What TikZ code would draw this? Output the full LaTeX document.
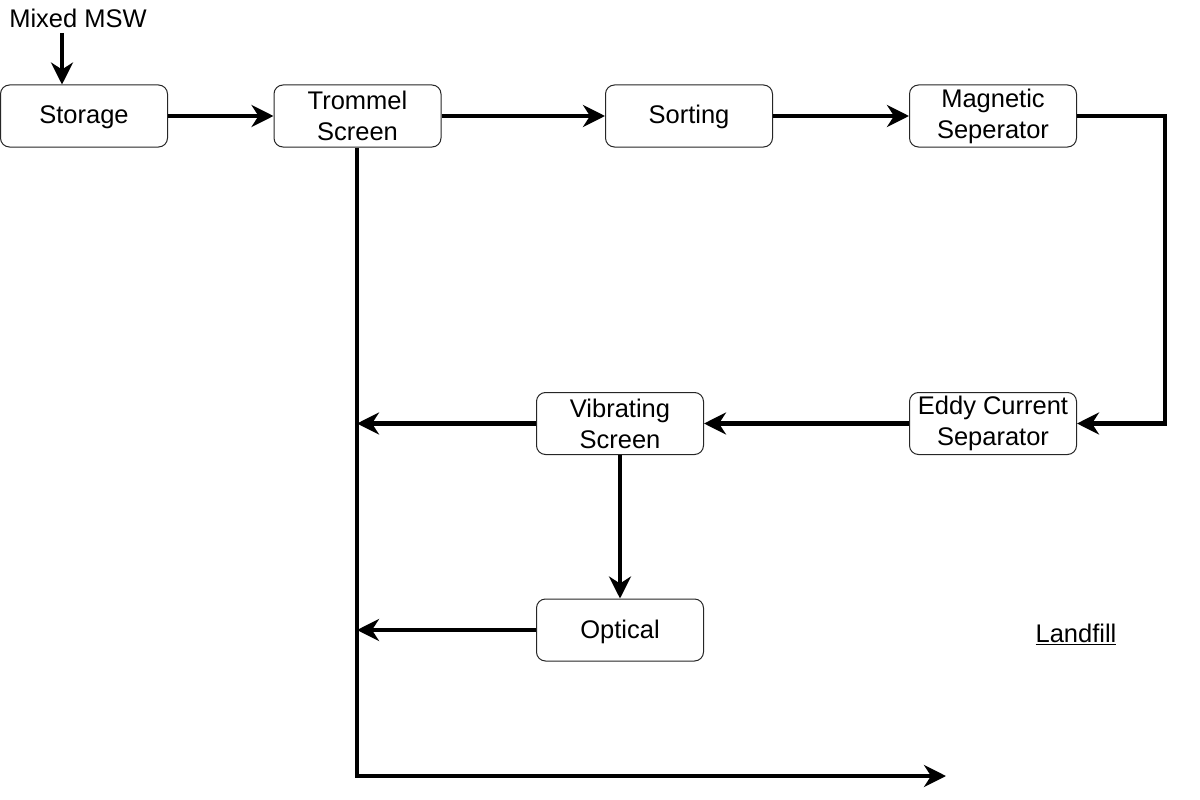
\documentclass[tikz,border=0pt]{standalone}
\usepackage{fontspec}
\setmainfont{Liberation Sans}
\usetikzlibrary{arrows.meta}
\newcommand{\oneline}[1]{\raisebox{-8pt}[0pt][0pt]{#1}}
\begin{document}
\begin{tikzpicture}[x=1pt,y=-1pt,
  box/.style={draw=black!85,line width=1pt,rounded corners=9pt,fill=white,
    minimum width=167pt,minimum height=62pt,inner sep=0pt,align=center,
    font=\fontsize{25.5}{31}\selectfont},
  lbl/.style={inner sep=0pt,font=\fontsize{25.5}{31}\selectfont},
  flow/.style={line width=4.5pt,-{Stealth[length=22pt,width=22pt,inset=7pt]}},
  plain/.style={line width=4.5pt}]
\useasboundingbox (0,0) rectangle (1200,800);
\node[box] (storage) at (84,116) {\oneline{Storage}};
\node[box] (trommel) at (357.5,116) {Trommel\\Screen};
\node[box] (sorting) at (689,116) {\oneline{Sorting}};
\node[box] (magnetic) at (993,116) {Magnetic\\Seperator};
\node[box] (eddy) at (993,423.5) {Eddy Current\\Separator};
\node[box] (vib) at (620,423.5) {Vibrating\\Screen};
\node[box] (optical) at (620,630) {\oneline{Optical}};
\node[lbl] (msw) at (78,18) {Mixed MSW};
\node[lbl] (landfill) at (1076,634) {\underline{Landfill}};
\coordinate (mswout) at (62,33);
\coordinate (turn) at (1165,116);
\coordinate (bottom) at (357,776);
\coordinate (end) at (946,776);
\draw[flow] (mswout) -- (mswout |- storage.north);
\draw[flow] (storage) -- (trommel);
\draw[flow] (trommel) -- (sorting);
\draw[flow] (sorting) -- (magnetic);
\draw[flow] (magnetic.east) -- (turn) -- (turn |- eddy.east) -- (eddy.east);
\draw[flow] (eddy) -- (vib);
\draw[flow] (vib.west) -- (vib.west -| bottom);
\draw[flow] (vib) -- (optical);
\draw[flow] (optical.west) -- (optical.west -| bottom);
\draw[flow] (trommel.south -| bottom) -- (bottom) -- (end);
\end{tikzpicture}
\end{document}
